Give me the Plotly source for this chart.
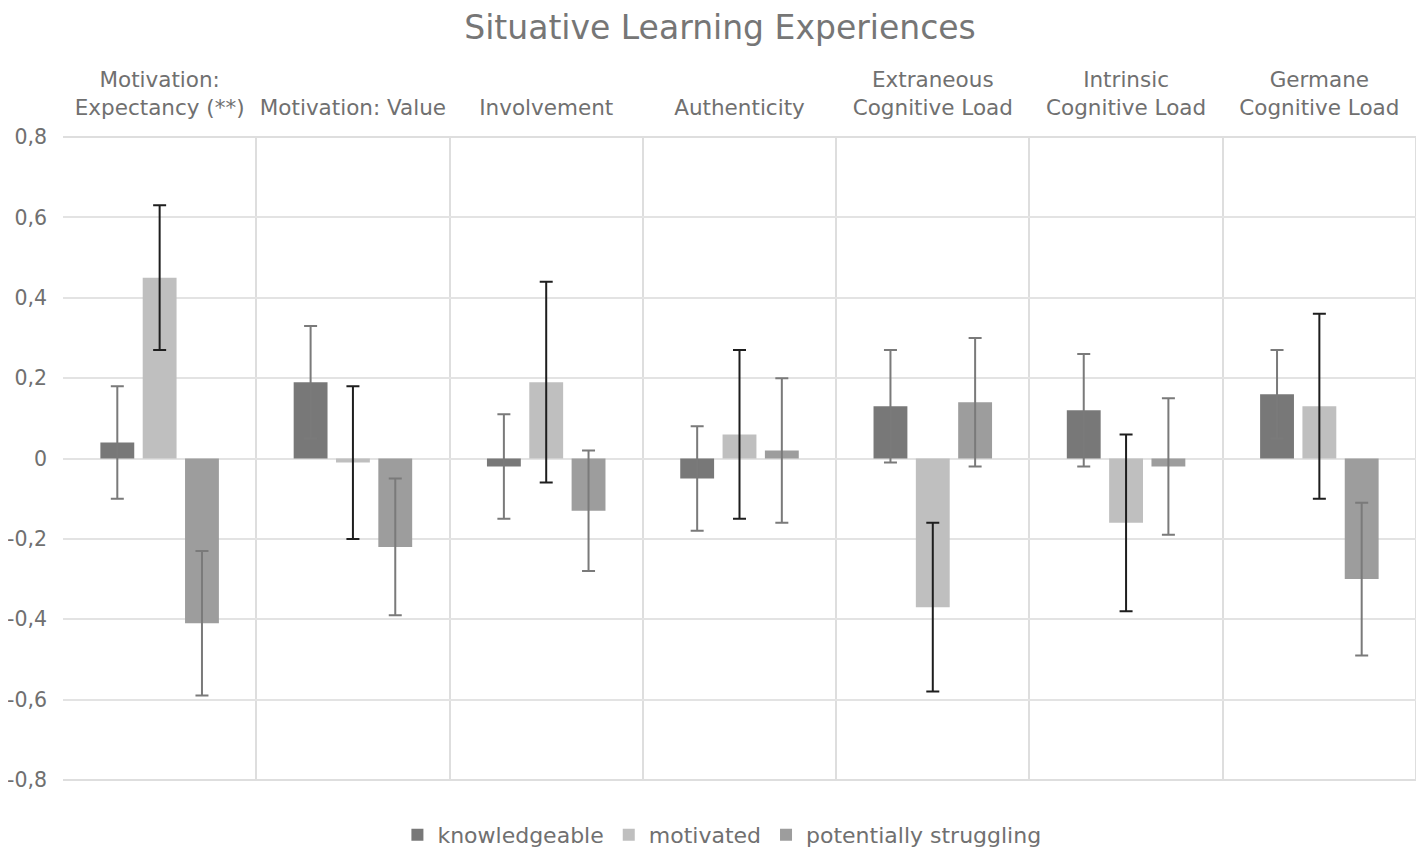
import plotly.graph_objects as go

categories = ["Motivation:<br>Expectancy (**)", "Motivation: Value", "Involvement", "Authenticity",
              "Extraneous<br>Cognitive Load", "Intrinsic<br>Cognitive Load", "Germane<br>Cognitive Load"]
series_names = ["knowledgeable", "motivated", "potentially struggling"]
knowledgeable = [0.04, 0.19, -0.02, -0.05, 0.13, 0.12, 0.16]
knowledgeable_err = [0.14, 0.14, 0.13, 0.13, 0.14, 0.14, 0.11]
motivated = [0.45, -0.01, 0.19, 0.06, -0.37, -0.16, 0.13]
motivated_err = [0.18, 0.19, 0.25, 0.21, 0.21, 0.22, 0.23]
struggling = [-0.41, -0.22, -0.13, 0.02, 0.14, -0.02, -0.30]
struggling_err = [0.18, 0.17, 0.15, 0.18, 0.16, 0.17, 0.19]
y_tickvals = [-0.8, -0.6, -0.4, -0.2, 0, 0.2, 0.4, 0.6, 0.8]
y_ticktext = ["-0,8", "-0,6", "-0,4", "-0,2", "0", "0,2", "0,4", "0,6", "0,8"]

bar_colors = ["#787878", "#bfbfbf", "#9d9d9d"]
err_colors = ["#7a7a7a", "#1e1e1e", "#7a7a7a"]
values = [knowledgeable, motivated, struggling]
errors = [knowledgeable_err, motivated_err, struggling_err]

fig = go.Figure()
for name, v, e, bc, ec in zip(series_names, values, errors, bar_colors, err_colors):
    fig.add_trace(go.Bar(
        x=categories, y=v, name=name,
        marker=dict(color=bc, line=dict(width=0)),
        error_y=dict(type="data", array=e, visible=True, color=ec, thickness=2, width=6.5),
    ))

font_family = "DejaVu Sans, Arial, sans-serif"
txt_color = "#707070"
grid_color = "#dedede"
fig.update_layout(
    width=1424, height=851,
    paper_bgcolor="white", plot_bgcolor="white",
    margin=dict(l=55, r=16, t=129, b=79),
    barmode="group", bargap=0.343, bargroupgap=0.2,
    separators=",.",
    font=dict(family=font_family, color=txt_color, size=22),
    title=dict(text="Situative Learning Experiences", x=0.5, xanchor="center",
               y=0.9775, yanchor="middle",
               font=dict(family=font_family, size=33, color="#767676")),
    showlegend=True,
    legend=dict(orientation="h", x=0.487, xanchor="center",
                yref="container", y=0.0282, yanchor="middle",
                font=dict(family=font_family, size=22, color=txt_color),
                itemsizing="constant", traceorder="normal"),
    xaxis=dict(side="top", type="category", tickson="boundaries", showgrid=True,
               gridcolor=grid_color, gridwidth=2, ticks="", showline=False,
               automargin=False, tickangle=0,
               tickfont=dict(family=font_family, size=21.5, color=txt_color),
               ticklabelstandoff=17),
    yaxis=dict(range=[-0.8, 0.8], tickvals=y_tickvals, ticktext=y_ticktext,
               showgrid=True, gridcolor="#e3e3e3", gridwidth=2,
               zeroline=True, zerolinecolor="#e3e3e3", zerolinewidth=2,
               showline=False, ticks="", ticklabelstandoff=15, automargin=False,
               tickfont=dict(family=font_family, size=20.5, color=txt_color)),
)
# outer frame lines of the plot area
fig.add_shape(type="line", xref="paper", yref="paper", x0=1, x1=1, y0=0, y1=1,
              line=dict(color=grid_color, width=2), layer="below")
fig.add_shape(type="line", xref="paper", yref="paper", x0=0, x1=1, y0=0, y1=0,
              line=dict(color=grid_color, width=2), layer="below")
fig.add_shape(type="line", xref="paper", yref="paper", x0=0, x1=1, y0=1, y1=1,
              line=dict(color=grid_color, width=2), layer="below")

fig.write_html("out.html")
